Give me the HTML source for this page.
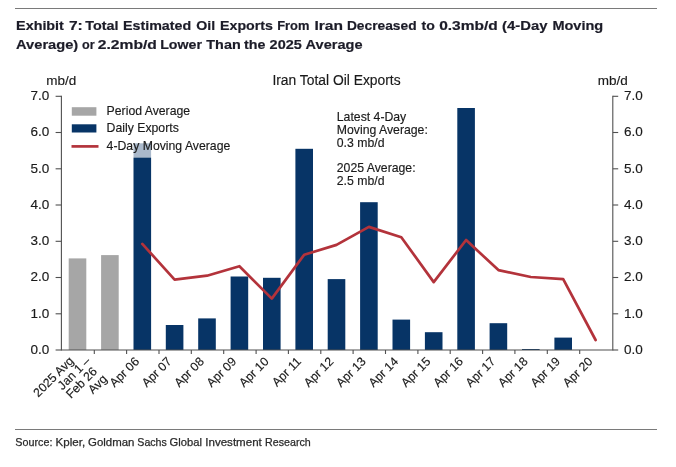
<!DOCTYPE html>
<html lang="en"><head><meta charset="utf-8"><title>Exhibit 7: Iran Total Oil Exports</title>
<style>
html,body{margin:0;padding:0;background:#fff;}
body{width:676px;height:467px;overflow:hidden;font-family:"Liberation Sans",Arial,sans-serif;}
svg{display:block;}
svg text{font-family:"Liberation Sans",Arial,sans-serif;}
.t{font-weight:700;font-size:13.5px;fill:#1c1c28;stroke:#1c1c28;stroke-width:0.2px;}
.src{font-size:11.2px;fill:#2a2a2a;stroke:#2a2a2a;stroke-width:0.25px;}
.c{font-size:12.25px;fill:#1a1a1a;stroke:#1a1a1a;stroke-width:0.15px;}
.ct{font-size:13.85px;fill:#1a1a1a;stroke:#1a1a1a;stroke-width:0.15px;}
.a{font-size:13.5px;fill:#1a1a1a;stroke:#1a1a1a;stroke-width:0.15px;}
</style></head><body>
<svg width="676" height="467" viewBox="0 0 676 467">
<rect x="0" y="0" width="676" height="467" fill="#ffffff"/>

<line x1="15" y1="8.5" x2="657" y2="8.5" stroke="#7a7a7a" stroke-width="1"/>
<text class="t" y="30.3"><tspan x="16.1" textLength="47.8" lengthAdjust="spacingAndGlyphs">Exhibit</tspan> <tspan x="68.9" textLength="13.8" lengthAdjust="spacingAndGlyphs">7:</tspan> <tspan x="85.3" textLength="33.2" lengthAdjust="spacingAndGlyphs">Total</tspan> <tspan x="123.0" textLength="68.2" lengthAdjust="spacingAndGlyphs">Estimated</tspan> <tspan x="196.2" textLength="18.9" lengthAdjust="spacingAndGlyphs">Oil</tspan> <tspan x="220.1" textLength="52.8" lengthAdjust="spacingAndGlyphs">Exports</tspan> <tspan x="277.2" textLength="32.2" lengthAdjust="spacingAndGlyphs">From</tspan> <tspan x="314.4" textLength="28.5" lengthAdjust="spacingAndGlyphs">Iran</tspan> <tspan x="346.9" textLength="69.7" lengthAdjust="spacingAndGlyphs">Decreased</tspan> <tspan x="421.6" textLength="13.3" lengthAdjust="spacingAndGlyphs">to</tspan> <tspan x="439.2" textLength="58.6" lengthAdjust="spacingAndGlyphs">0.3mb/d</tspan> <tspan x="502.1" textLength="45.3" lengthAdjust="spacingAndGlyphs">(4-Day</tspan> <tspan x="552.4" textLength="50.8" lengthAdjust="spacingAndGlyphs">Moving</tspan></text>
<text class="t" y="49.0"><tspan x="16.1" textLength="62.1" lengthAdjust="spacingAndGlyphs">Average)</tspan> <tspan x="82.0" textLength="12.6" lengthAdjust="spacingAndGlyphs">or</tspan> <tspan x="97.8" textLength="59.1" lengthAdjust="spacingAndGlyphs">2.2mb/d</tspan> <tspan x="160.2" textLength="41.8" lengthAdjust="spacingAndGlyphs">Lower</tspan> <tspan x="206.3" textLength="34.4" lengthAdjust="spacingAndGlyphs">Than</tspan> <tspan x="244.0" textLength="21.4" lengthAdjust="spacingAndGlyphs">the</tspan> <tspan x="269.6" textLength="32.2" lengthAdjust="spacingAndGlyphs">2025</tspan> <tspan x="305.6" textLength="56.9" lengthAdjust="spacingAndGlyphs">Average</tspan></text>
<line x1="15" y1="429.5" x2="657" y2="429.5" stroke="#7a7a7a" stroke-width="1"/>
<text class="src" y="445.6"><tspan x="15.3" textLength="37.1" lengthAdjust="spacingAndGlyphs">Source:</tspan> <tspan x="55.5" textLength="29.6" lengthAdjust="spacingAndGlyphs">Kpler,</tspan> <tspan x="88.0" textLength="46.4" lengthAdjust="spacingAndGlyphs">Goldman</tspan> <tspan x="137.3" textLength="29.5" lengthAdjust="spacingAndGlyphs">Sachs</tspan> <tspan x="169.5" textLength="32.4" lengthAdjust="spacingAndGlyphs">Global</tspan> <tspan x="205.3" textLength="56.5" lengthAdjust="spacingAndGlyphs">Investment</tspan> <tspan x="265.1" textLength="45.7" lengthAdjust="spacingAndGlyphs">Research</tspan></text>
<text class="ct" x="336.5" y="85.2" text-anchor="middle">Iran Total Oil Exports</text>
<text class="a" x="61.2" y="85.1" text-anchor="middle">mb/d</text>
<text class="a" x="612.7" y="85.1" text-anchor="middle">mb/d</text>
<rect x="68.7" y="258.4" width="17.6" height="91.6" fill="#a6a6a6"/>
<rect x="101.1" y="255.1" width="17.6" height="94.9" fill="#a6a6a6"/>
<rect x="133.5" y="143.3" width="17.6" height="206.7" fill="#073466"/>
<rect x="165.8" y="325.0" width="17.6" height="25.0" fill="#073466"/>
<rect x="198.2" y="318.4" width="17.6" height="31.6" fill="#073466"/>
<rect x="230.6" y="276.5" width="17.6" height="73.5" fill="#073466"/>
<rect x="263.0" y="277.8" width="17.6" height="72.2" fill="#073466"/>
<rect x="295.4" y="148.8" width="17.6" height="201.2" fill="#073466"/>
<rect x="327.7" y="279.1" width="17.6" height="70.9" fill="#073466"/>
<rect x="360.1" y="202.2" width="17.6" height="147.8" fill="#073466"/>
<rect x="392.5" y="319.6" width="17.6" height="30.4" fill="#073466"/>
<rect x="424.9" y="332.2" width="17.6" height="17.8" fill="#073466"/>
<rect x="457.3" y="108.0" width="17.6" height="242.0" fill="#073466"/>
<rect x="489.6" y="323.2" width="17.6" height="26.8" fill="#073466"/>
<rect x="522.0" y="349.0" width="17.6" height="1.0" fill="#073466"/>
<rect x="554.4" y="337.6" width="17.6" height="12.4" fill="#073466"/>
<g stroke="#505050" stroke-width="1.1" fill="none">
<line x1="61.4" y1="95.8" x2="61.4" y2="350.5"/>
<line x1="612.8" y1="95.8" x2="612.8" y2="350.5"/>
<line x1="61.4" y1="350.0" x2="612.8" y2="350.0"/>
<line x1="55.6" y1="350.0" x2="61.4" y2="350.0"/>
<line x1="612.8" y1="350.0" x2="618.2" y2="350.0"/>
<line x1="55.6" y1="313.8" x2="61.4" y2="313.8"/>
<line x1="612.8" y1="313.8" x2="618.2" y2="313.8"/>
<line x1="55.6" y1="277.5" x2="61.4" y2="277.5"/>
<line x1="612.8" y1="277.5" x2="618.2" y2="277.5"/>
<line x1="55.6" y1="241.3" x2="61.4" y2="241.3"/>
<line x1="612.8" y1="241.3" x2="618.2" y2="241.3"/>
<line x1="55.6" y1="205.0" x2="61.4" y2="205.0"/>
<line x1="612.8" y1="205.0" x2="618.2" y2="205.0"/>
<line x1="55.6" y1="168.8" x2="61.4" y2="168.8"/>
<line x1="612.8" y1="168.8" x2="618.2" y2="168.8"/>
<line x1="55.6" y1="132.5" x2="61.4" y2="132.5"/>
<line x1="612.8" y1="132.5" x2="618.2" y2="132.5"/>
<line x1="55.6" y1="96.3" x2="61.4" y2="96.3"/>
<line x1="612.8" y1="96.3" x2="618.2" y2="96.3"/>
<line x1="94.3" y1="350.0" x2="94.3" y2="354.0"/>
<line x1="126.6" y1="350.0" x2="126.6" y2="354.0"/>
<line x1="159.0" y1="350.0" x2="159.0" y2="354.0"/>
<line x1="191.3" y1="350.0" x2="191.3" y2="354.0"/>
<line x1="223.7" y1="350.0" x2="223.7" y2="354.0"/>
<line x1="256.1" y1="350.0" x2="256.1" y2="354.0"/>
<line x1="288.4" y1="350.0" x2="288.4" y2="354.0"/>
<line x1="320.8" y1="350.0" x2="320.8" y2="354.0"/>
<line x1="353.1" y1="350.0" x2="353.1" y2="354.0"/>
<line x1="385.5" y1="350.0" x2="385.5" y2="354.0"/>
<line x1="417.9" y1="350.0" x2="417.9" y2="354.0"/>
<line x1="450.2" y1="350.0" x2="450.2" y2="354.0"/>
<line x1="482.6" y1="350.0" x2="482.6" y2="354.0"/>
<line x1="514.9" y1="350.0" x2="514.9" y2="354.0"/>
<line x1="547.3" y1="350.0" x2="547.3" y2="354.0"/>
<line x1="579.7" y1="350.0" x2="579.7" y2="354.0"/>
</g>
<text class="a" x="49.2" y="353.9" text-anchor="end">0.0</text>
<text class="a" x="624.0" y="353.9">0.0</text>
<text class="a" x="49.2" y="317.7" text-anchor="end">1.0</text>
<text class="a" x="624.0" y="317.7">1.0</text>
<text class="a" x="49.2" y="281.4" text-anchor="end">2.0</text>
<text class="a" x="624.0" y="281.4">2.0</text>
<text class="a" x="49.2" y="245.2" text-anchor="end">3.0</text>
<text class="a" x="624.0" y="245.2">3.0</text>
<text class="a" x="49.2" y="208.9" text-anchor="end">4.0</text>
<text class="a" x="624.0" y="208.9">4.0</text>
<text class="a" x="49.2" y="172.7" text-anchor="end">5.0</text>
<text class="a" x="624.0" y="172.7">5.0</text>
<text class="a" x="49.2" y="136.4" text-anchor="end">6.0</text>
<text class="a" x="624.0" y="136.4">6.0</text>
<text class="a" x="49.2" y="100.2" text-anchor="end">7.0</text>
<text class="a" x="624.0" y="100.2">7.0</text>
<polyline points="142.3,243.9 174.6,279.6 207.0,275.7 239.4,266.2 271.8,298.6 304.2,254.7 336.5,244.9 368.9,226.9 401.3,237.2 433.7,282.1 466.1,240.0 498.4,270.1 530.8,277.0 563.2,279.1 595.6,340.0" fill="none" stroke="#b3333b" stroke-width="2.7" stroke-linejoin="round" stroke-linecap="round"/>
<rect x="66" y="101" width="172" height="56.7" fill="#ffffff" fill-opacity="0.66"/>
<rect x="71.8" y="107.2" width="24.6" height="8.5" fill="#a6a6a6"/>
<rect x="71.8" y="124.3" width="24.6" height="8.2" fill="#073466"/>
<line x1="71.5" y1="146.4" x2="98.5" y2="146.4" stroke="#b3333b" stroke-width="2.7"/>
<text class="c" x="106.6" y="115.3">Period Average</text>
<text class="c" x="106.6" y="132">Daily Exports</text>
<text class="c" x="106.6" y="149.8">4-Day Moving Average</text>
<text class="c" x="336.8" y="121.3">Latest 4-Day</text>
<text class="c" x="336.8" y="133.9">Moving Average:</text>
<text class="c" x="336.8" y="146.7">0.3 mb/d</text>
<text class="c" x="336.8" y="172.4">2025 Average:</text>
<text class="c" x="336.8" y="184.9">2.5 mb/d</text>
<text class="c" transform="translate(74.3,361.7) rotate(-45)" text-anchor="end">2025 Avg</text>
<text class="c" transform="translate(91.0,362.0) rotate(-45)" text-anchor="end">Jan 1 –</text>
<text class="c" transform="translate(97.9,372.1) rotate(-45)" text-anchor="end">Feb 26</text>
<text class="c" transform="translate(107.8,379.8) rotate(-45)" text-anchor="end">Avg</text>
<text class="c" transform="translate(140.0,362.3) rotate(-45)" text-anchor="end">Apr 06</text>
<text class="c" transform="translate(172.3,362.3) rotate(-45)" text-anchor="end">Apr 07</text>
<text class="c" transform="translate(204.7,362.3) rotate(-45)" text-anchor="end">Apr 08</text>
<text class="c" transform="translate(237.1,362.3) rotate(-45)" text-anchor="end">Apr 09</text>
<text class="c" transform="translate(269.5,362.3) rotate(-45)" text-anchor="end">Apr 10</text>
<text class="c" transform="translate(301.9,362.3) rotate(-45)" text-anchor="end">Apr 11</text>
<text class="c" transform="translate(334.2,362.3) rotate(-45)" text-anchor="end">Apr 12</text>
<text class="c" transform="translate(366.6,362.3) rotate(-45)" text-anchor="end">Apr 13</text>
<text class="c" transform="translate(399.0,362.3) rotate(-45)" text-anchor="end">Apr 14</text>
<text class="c" transform="translate(431.4,362.3) rotate(-45)" text-anchor="end">Apr 15</text>
<text class="c" transform="translate(463.8,362.3) rotate(-45)" text-anchor="end">Apr 16</text>
<text class="c" transform="translate(496.1,362.3) rotate(-45)" text-anchor="end">Apr 17</text>
<text class="c" transform="translate(528.5,362.3) rotate(-45)" text-anchor="end">Apr 18</text>
<text class="c" transform="translate(560.9,362.3) rotate(-45)" text-anchor="end">Apr 19</text>
<text class="c" transform="translate(593.3,362.3) rotate(-45)" text-anchor="end">Apr 20</text>
</svg></body></html>
